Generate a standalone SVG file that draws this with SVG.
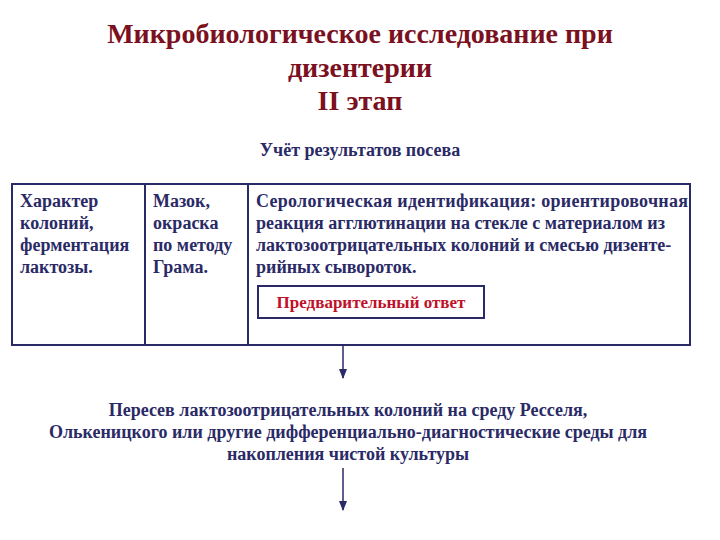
<svg xmlns="http://www.w3.org/2000/svg" width="720" height="540" viewBox="0 0 720 540">
<style>
text{font-family:"Liberation Serif","Times New Roman",serif;font-weight:bold}
.t{fill:#7a1020;font-size:28px}
.b{fill:#2a2a66;font-size:18px}
.r{fill:#c0102a;font-size:17px}
.box{fill:none;stroke:#2a2a66;stroke-width:2}
.ln{stroke:#2a2a66;stroke-width:1.5;fill:none}
</style>
<defs><marker id="a" viewBox="0 0 10 10" refX="9" refY="5" markerWidth="7" markerHeight="7" orient="auto"><path d="M0,1 L10,5 L0,9 z" fill="#2a2a66"/></marker></defs>
<rect width="720" height="540" fill="#fff"/>
<g id="title" text-anchor="middle">
<text class="t" x="360" y="43">Микробиологическое исследование при</text>
<text class="t" x="360" y="77">дизентерии</text>
<text class="t" x="360" y="110">II этап</text>
<text class="b" x="360" y="156">Учёт результатов посева</text>
</g>
<g id="table">
<rect class="box" x="12" y="184" width="678" height="161"/>
<line class="box" x1="145" y1="184" x2="145" y2="345"/>
<line class="box" x1="248" y1="184" x2="248" y2="345"/>
<text class="b" x="20" y="207">Характер</text>
<text class="b" x="20" y="229">колоний,</text>
<text class="b" x="20" y="251">ферментация</text>
<text class="b" x="20" y="273">лактозы.</text>
<text class="b" x="153" y="207">Мазок,</text>
<text class="b" x="153" y="229">окраска</text>
<text class="b" x="153" y="251">по методу</text>
<text class="b" x="153" y="273">Грама.</text>
<text class="b" x="256" y="207" textLength="432">Серологическая идентификация: ориентировочная</text>
<text class="b" x="256" y="229">реакция агглютинации на стекле с материалом из</text>
<text class="b" x="256" y="251">лактозоотрицательных колоний и смесью дизенте-</text>
<text class="b" x="256" y="273">рийных сывороток.</text>
</g>
<g id="answer">
<rect class="box" x="258" y="286" width="226" height="32"/>
<text class="r" x="371" y="308" text-anchor="middle">Предварительный ответ</text>
</g>
<g id="connectors">
<line class="ln" x1="343" y1="345" x2="343" y2="378" marker-end="url(#a)"/>
<line class="ln" x1="343" y1="468" x2="343" y2="510" marker-end="url(#a)"/>
</g>
<g id="reseed" text-anchor="middle">
<text class="b" x="348" y="416">Пересев лактозоотрицательных колоний на среду Ресселя,</text>
<text class="b" x="348" y="438">Олькеницкого или другие дифференциально-диагностические среды для</text>
<text class="b" x="348" y="460">накопления чистой культуры</text>
</g>
</svg>
